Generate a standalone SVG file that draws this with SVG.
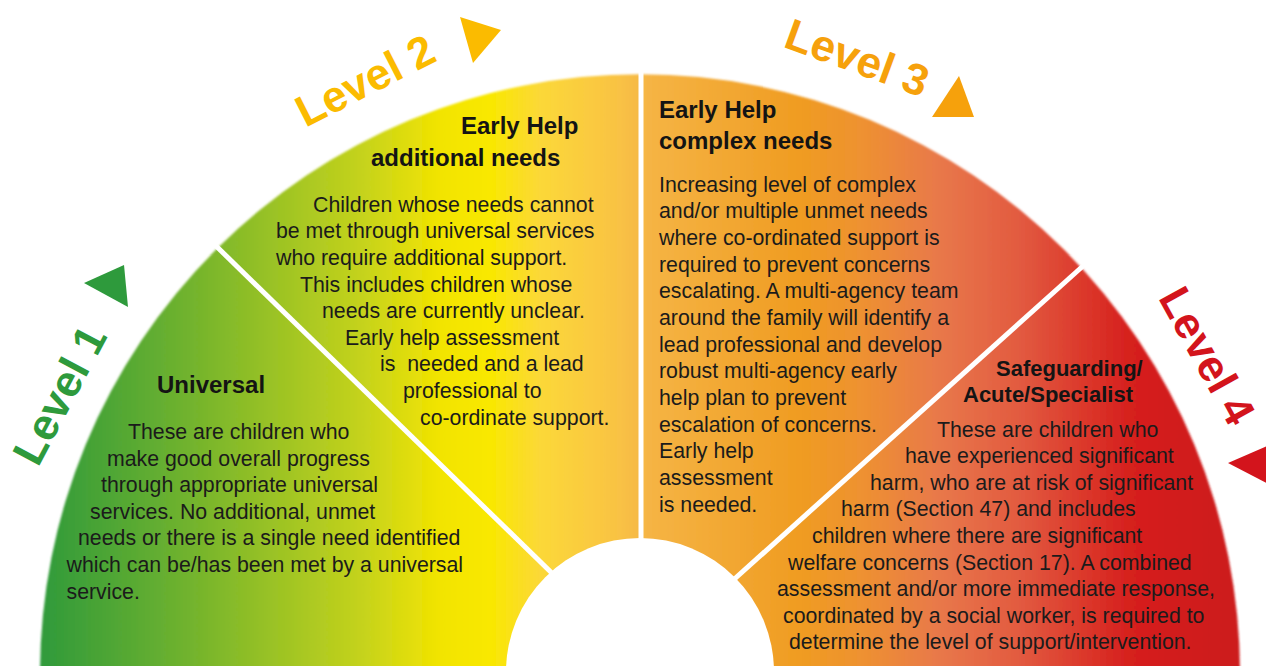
<svg xmlns="http://www.w3.org/2000/svg" width="1266" height="666" viewBox="0 0 1266 666">
  <defs>
    <linearGradient id="arcGrad" gradientUnits="userSpaceOnUse" x1="40" y1="0" x2="1240" y2="0">
      <stop offset="0" stop-color="#2f9a3b"/>
      <stop offset="0.12" stop-color="#6fb22e"/>
      <stop offset="0.27" stop-color="#c6d31c"/>
      <stop offset="0.333" stop-color="#f2e400"/>
      <stop offset="0.375" stop-color="#f9e800"/>
      <stop offset="0.417" stop-color="#fbd838"/>
      <stop offset="0.483" stop-color="#f9c244"/>
      <stop offset="0.508" stop-color="#f5b444"/>
      <stop offset="0.633" stop-color="#f09c22"/>
      <stop offset="0.683" stop-color="#ee9230"/>
      <stop offset="0.75" stop-color="#e8784a"/>
      <stop offset="0.817" stop-color="#e25a40"/>
      <stop offset="0.867" stop-color="#dc3a2c"/>
      <stop offset="0.908" stop-color="#d6201e"/>
      <stop offset="1" stop-color="#cc1a1a"/>
    </linearGradient>
    <filter id="soft" x="-5%" y="-5%" width="110%" height="110%">
      <feGaussianBlur stdDeviation="1.2"/>
    </filter>
  </defs>
  <style>
    .lvl { font-family: "Liberation Sans", Arial, sans-serif; font-weight: bold; font-size: 44px; }
    .ttl { font-family: "Liberation Sans", Arial, sans-serif; font-weight: bold; font-size: 24px; fill: #141414; }
    .ttl4 { font-family: "Liberation Sans", Arial, sans-serif; font-weight: bold; font-size: 22px; fill: #141414; }
    .body { font-family: "Liberation Sans", Arial, sans-serif; font-size: 21.3px; fill: #1b1b1b; }
    .div { stroke: #ffffff; stroke-width: 5; fill: none; }
  </style>
  <rect x="0" y="0" width="1266" height="666" fill="#ffffff"/>

  <g id="wheel">
    <path d="M 40 674 A 600 600 0 0 1 1240 674 Z" fill="url(#arcGrad)" filter="url(#soft)"/>
  </g>

  <g id="connectors">
    <line class="div" x1="214" y1="244" x2="560" y2="581"/>
    <line class="div" x1="641" y1="68" x2="641" y2="560"/>
    <line class="div" x1="1083" y1="266" x2="720" y2="592"/>
  </g>

  <g id="hub">
    <circle cx="640" cy="672" r="134" fill="#ffffff"/>
  </g>

  <g id="level1">
    <text class="lvl" fill="#2e9a3c" text-anchor="middle" font-size="42" transform="translate(73 402) rotate(-62)">Level 1</text>
    <polygon points="84,283 124,265 128,307" fill="#2e9a3c"/>
    <text class="ttl" x="157" y="393">Universal</text>
    <text class="body">
      <tspan x="128" y="439">These are children who</tspan>
      <tspan x="107" y="465.6">make good overall progress</tspan>
      <tspan x="101" y="492.2">through appropriate universal</tspan>
      <tspan x="90" y="518.8">services. No additional, unmet</tspan>
      <tspan x="78" y="545.4">needs or there is a single need identified</tspan>
      <tspan x="66.5" y="572">which can be/has been met by a universal</tspan>
      <tspan x="66.5" y="598.6">service.</tspan>
    </text>
  </g>

  <g id="level2">
    <text class="lvl" fill="#fbbb00" text-anchor="middle" transform="translate(372 94) rotate(-27)">Level 2</text>
    <polygon points="460,17 501,30 473,63" fill="#fbbb00"/>
    <text class="ttl" x="461" y="134">Early Help</text>
    <text class="ttl" x="371" y="166">additional needs</text>
    <text class="body" xml:space="preserve"><tspan x="313" y="211.8">Children whose needs cannot</tspan><tspan x="276" y="238.4">be met through universal services</tspan><tspan x="276" y="265">who require additional support.</tspan><tspan x="300" y="291.6">This includes children whose</tspan><tspan x="322" y="318.2">needs are currently unclear.</tspan><tspan x="345" y="344.8">Early help assessment</tspan><tspan x="380" y="371.4">is  needed and a lead</tspan><tspan x="403" y="398">professional to</tspan><tspan x="420" y="424.6">co-ordinate support.</tspan></text>
  </g>

  <g id="level3">
    <text class="lvl" fill="#f6a10c" text-anchor="middle" transform="translate(852 72) rotate(20)">Level 3</text>
    <polygon points="959,76 974,117 932,117" fill="#f6a10c"/>
    <text class="ttl" x="659" y="118">Early Help</text>
    <text class="ttl" x="659" y="149">complex needs</text>
    <text class="body">
      <tspan x="659" y="191.6">Increasing level of complex</tspan>
      <tspan x="659" y="218.3">and/or multiple unmet needs</tspan>
      <tspan x="659" y="245">where co-ordinated support is</tspan>
      <tspan x="659" y="271.6">required to prevent concerns</tspan>
      <tspan x="659" y="298.3">escalating. A multi-agency team</tspan>
      <tspan x="659" y="325">around the family will identify a</tspan>
      <tspan x="659" y="351.6">lead professional and develop</tspan>
      <tspan x="659" y="378.3">robust multi-agency early</tspan>
      <tspan x="659" y="405">help plan to prevent</tspan>
      <tspan x="659" y="431.6">escalation of concerns.</tspan>
      <tspan x="659" y="458.3">Early help</tspan>
      <tspan x="659" y="485">assessment</tspan>
      <tspan x="659" y="511.6">is needed.</tspan>
    </text>
  </g>

  <g id="level4">
    <text class="lvl" fill="#d3141c" text-anchor="middle" transform="translate(1194 363) rotate(61)">Level 4</text>
    <polygon points="1228,463 1272,444 1272,486" fill="#d3141c"/>
    <text class="ttl4" x="996" y="376">Safeguarding/</text>
    <text class="ttl4" x="963" y="402">Acute/Specialist</text>
    <text class="body">
      <tspan x="937" y="436.6">These are children who</tspan>
      <tspan x="905" y="463.2">have experienced significant</tspan>
      <tspan x="870" y="489.8">harm, who are at risk of significant</tspan>
      <tspan x="841" y="516.4">harm (Section 47) and includes</tspan>
      <tspan x="812" y="543">children where there are significant</tspan>
      <tspan x="788" y="569.6">welfare concerns (Section 17). A combined</tspan>
      <tspan x="777" y="596.2">assessment and/or more immediate response,</tspan>
      <tspan x="783" y="622.8">coordinated by a social worker, is required to</tspan>
      <tspan x="789" y="649.4">determine the level of support/intervention.</tspan>
    </text>
  </g>
</svg>
